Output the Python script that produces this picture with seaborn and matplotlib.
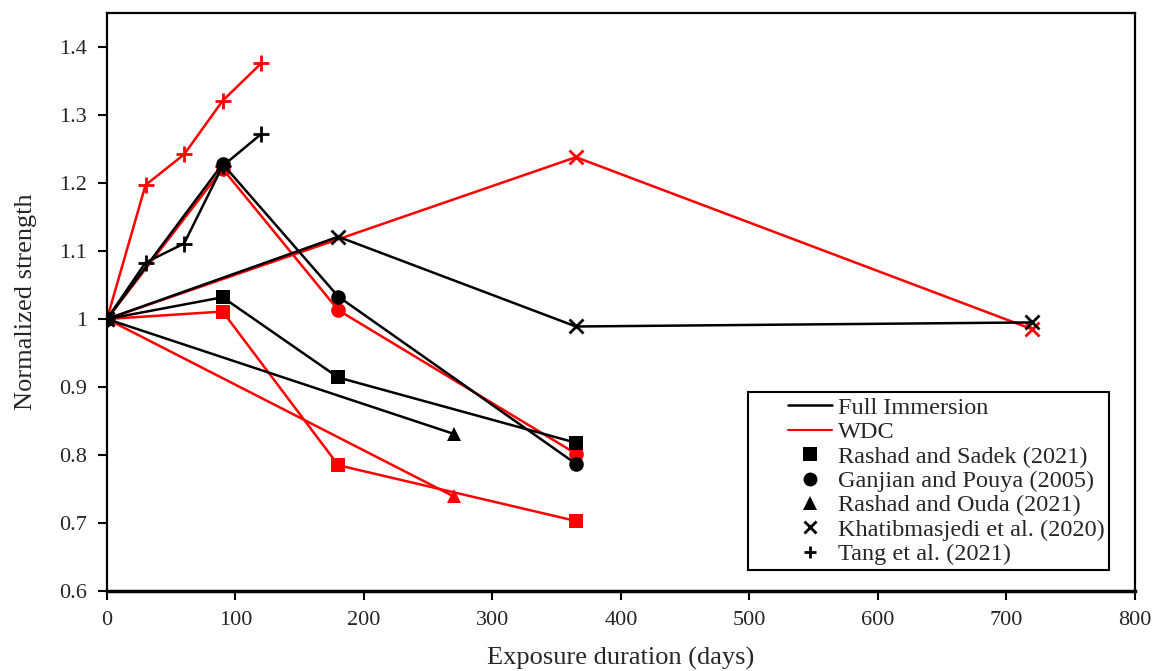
import numpy as np
import pandas as pd
import matplotlib
matplotlib.use("Agg")
import matplotlib.pyplot as plt
from matplotlib.lines import Line2D
from matplotlib.legend_handler import HandlerLine2D
import seaborn as sns

# ---- data ----
studies = ["Rashad and Sadek (2021)", "Ganjian and Pouya (2005)", "Rashad and Ouda (2021)",
           "Khatibmasjedi et al. (2020)", "Tang et al. (2021)"]
conditions = ["Full Immersion", "WDC"]

sadek_days = [0, 90, 180, 365]
sadek_fi = [1.0, 1.032, 0.914, 0.818]
sadek_wdc = [1.0, 1.011, 0.785, 0.703]

ganjian_days = [0, 90, 180, 365]
ganjian_fi = [1.0, 1.228, 1.033, 0.787]
ganjian_wdc = [1.0, 1.221, 1.013, 0.802]

ouda_days = [0, 270]
ouda_fi = [1.0, 0.831]
ouda_wdc = [1.0, 0.739]

khatib_fi_days = [0, 180, 365, 720]
khatib_fi = [1.0, 1.121, 0.989, 0.995]
khatib_wdc_days = [0, 365, 720]
khatib_wdc = [1.0, 1.238, 0.985]

tang_days = [0, 30, 60, 90, 120]
tang_fi = [1.0, 1.083, 1.111, 1.225, 1.272]
tang_wdc = [1.0, 1.197, 1.242, 1.321, 1.376]

yticks = [0.6, 0.7, 0.8, 0.9, 1.0, 1.1, 1.2, 1.3, 1.4]
ytick_labels = ["0.6", "0.7", "0.8", "0.9", "1", "1.1", "1.2", "1.3", "1.4"]
xticks = [0, 100, 200, 300, 400, 500, 600, 700, 800]

# ---- build long table ----
rows = []
def add(study, cond, days, vals):
    for d, v in zip(days, vals):
        rows.append({"study": study, "condition": cond, "days": d, "strength": v})

add(studies[0], "Full Immersion", sadek_days, sadek_fi)
add(studies[0], "WDC", sadek_days, sadek_wdc)
add(studies[1], "Full Immersion", ganjian_days, ganjian_fi)
add(studies[1], "WDC", ganjian_days, ganjian_wdc)
add(studies[2], "Full Immersion", ouda_days, ouda_fi)
add(studies[2], "WDC", ouda_days, ouda_wdc)
add(studies[3], "Full Immersion", khatib_fi_days, khatib_fi)
add(studies[3], "WDC", khatib_wdc_days, khatib_wdc)
add(studies[4], "Full Immersion", tang_days, tang_fi)
add(studies[4], "WDC", tang_days, tang_wdc)
df = pd.DataFrame(rows)

sns.set_theme(style="white")
plt.rcParams["font.family"] = ["Liberation Serif", "DejaVu Serif"]

fig = plt.figure(figsize=(11.54, 6.71), dpi=100)
ax = fig.add_axes([0.0927, 0.1192, 0.8908, 0.8614])

palette = {"Full Immersion": "black", "WDC": "#ff0000"}
markers = {studies[0]: "s", studies[1]: "o", studies[2]: "^", studies[3]: "x", studies[4]: "+"}
sizes_ms = {"s": 10, "o": 10.5, "^": 10, "x": 10, "+": 11}

# draw red first then black on top (as in reference black over red)
for cond in ["WDC", "Full Immersion"]:
    for st in studies:
        sub = df[(df.condition == cond) & (df.study == st)]
        m = markers[st]
        sns.lineplot(data=sub, x="days", y="strength", ax=ax, color=palette[cond],
                     marker=m, markersize=sizes_ms[m], markeredgewidth=2 if m in "x+" else 0,
                     markeredgecolor=palette[cond], linewidth=1.8,
                     estimator=None, sort=False, legend=False)

ax.set_xlim(0, 800)
ax.set_ylim(0.6, 1.45)
ax.set_xticks(xticks)
ax.set_xticklabels([str(t) for t in xticks])
ax.set_yticks(yticks)
ax.set_yticklabels(ytick_labels)
ax.tick_params(axis="both", direction="out", length=6.5, width=1.5, color="black",
               labelsize=16, labelcolor="#262626", left=True, bottom=True)
ax.tick_params(axis="x", pad=8)
ax.tick_params(axis="y", pad=8)
for s in ["left", "right", "top"]:
    ax.spines[s].set_color("black")
    ax.spines[s].set_linewidth(1.6)
ax.spines["bottom"].set_color("black")
ax.spines["bottom"].set_linewidth(2.5)

ax.set_xlabel("Exposure duration (days)", fontsize=19, color="#262626", labelpad=12)
ax.set_ylabel("Normalized strength", fontsize=19, color="#262626", labelpad=16)
ax.grid(False)


class OffsetHandler(HandlerLine2D):
    """Draw the handle only in the right part of the handle box."""
    def __init__(self, offset=21, **kw):
        super().__init__(**kw)
        self.offset = offset

    def create_artists(self, legend, orig_handle, xdescent, ydescent, width, height,
                       fontsize, trans):
        return super().create_artists(legend, orig_handle, xdescent - self.offset, ydescent,
                                      width - self.offset, height, fontsize, trans)


handles = [Line2D([], [], color="black", lw=1.8),
           Line2D([], [], color="#ff0000", lw=1.5)]
for st in studies:
    m = markers[st]
    handles.append(Line2D([], [], color="black", marker=m, linestyle="none",
                          markersize=10 if m in "so^" else 9, markeredgewidth=2 if m in "x+" else 0))
labels = conditions + studies
hmap = {h: OffsetHandler(offset=25) for h in handles}
leg = ax.legend(handles, labels, loc="lower left", bbox_to_anchor=(0.6235, 0.036),
                borderaxespad=0, fontsize=17.5, frameon=True, fancybox=False,
                edgecolor="black", handlelength=3.25, labelspacing=0.1,
                handletextpad=0.25, borderpad=0.2, handler_map=hmap)
leg.get_frame().set_linewidth(1.5)
leg.get_frame().set_alpha(1)
for t in leg.get_texts():
    t.set_color("#262626")

fig.savefig("out.png", dpi=100)
